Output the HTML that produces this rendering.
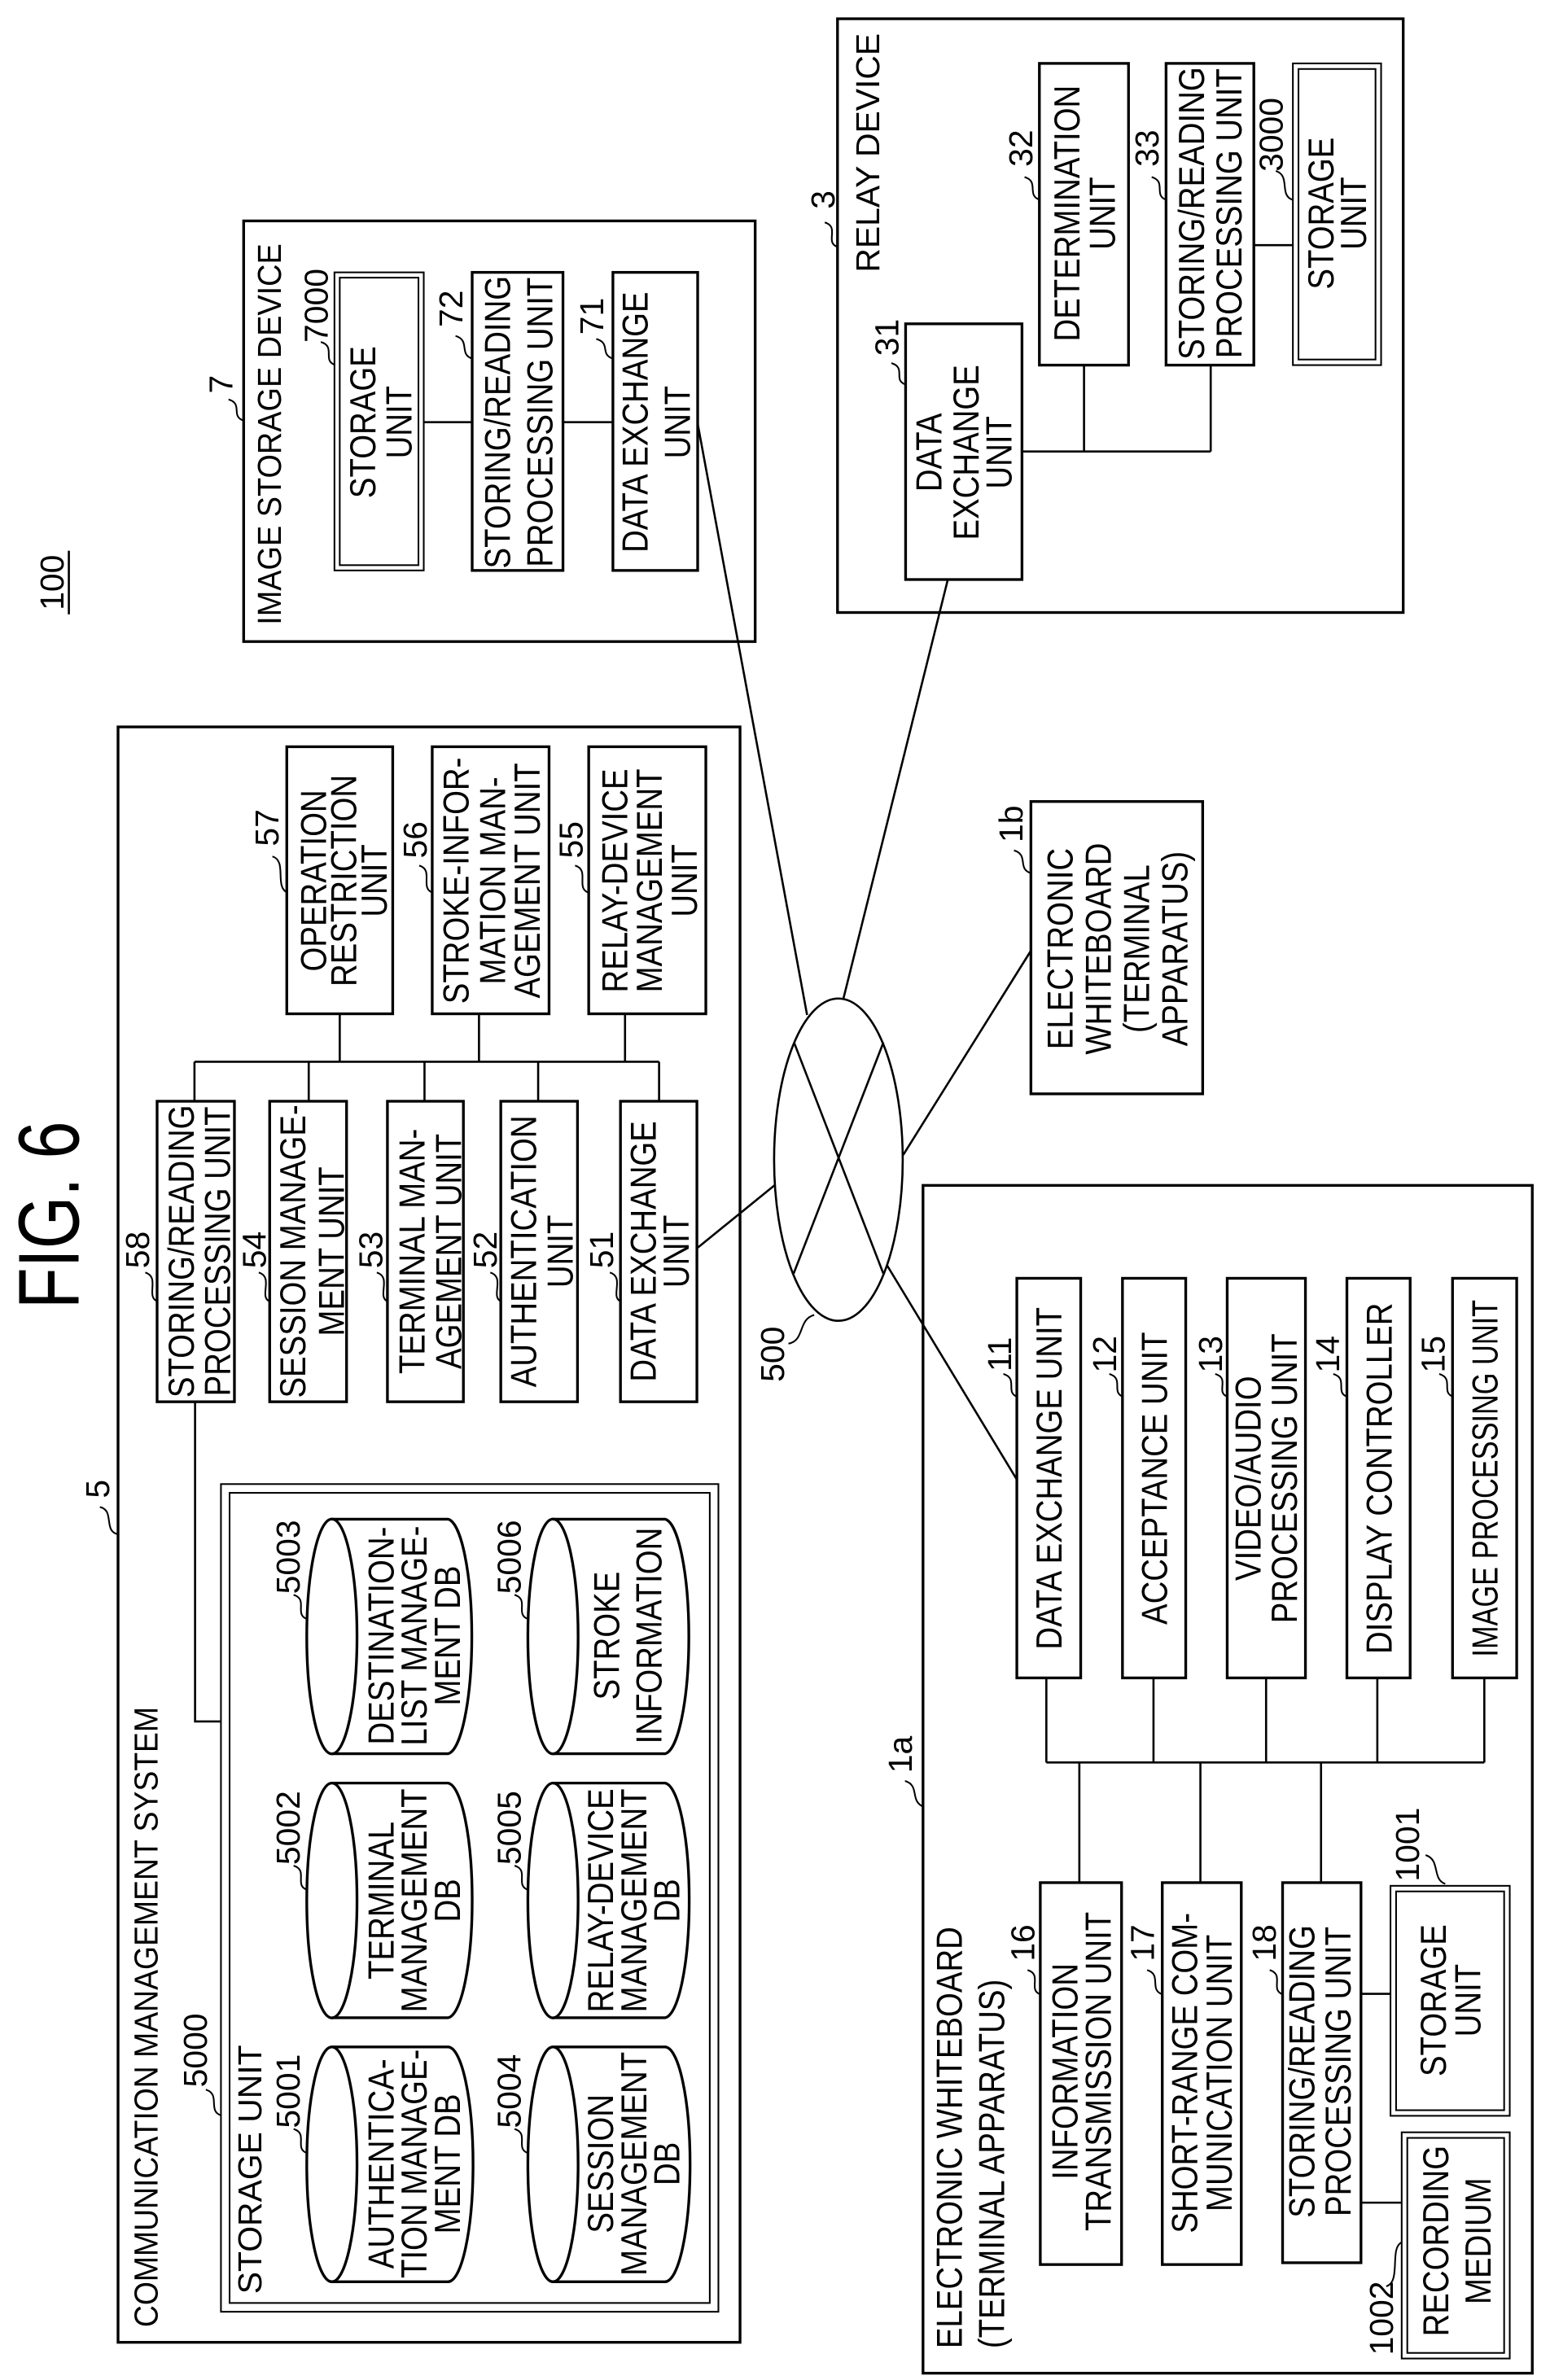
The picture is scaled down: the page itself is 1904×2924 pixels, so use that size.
<!DOCTYPE html>
<html>
<head>
<meta charset="utf-8">
<style>
html,body{margin:0;padding:0;background:#fff;}
svg{display:block;}
text{font-family:"Liberation Sans",Arial,sans-serif;fill:#000;}
.u{font-size:24px;}
.n{font-size:22px;}
.b{fill:none;stroke:#000;stroke-width:1.8;}
.d{fill:none;stroke:#000;stroke-width:1.1;}
.l{fill:none;stroke:#000;stroke-width:1.4;}
.q{fill:none;stroke:#000;stroke-width:1.1;}
</style>
</head>
<body>
<svg width="1904" height="2924" viewBox="0 0 1024.2 1572.9" preserveAspectRatio="none" xmlns="http://www.w3.org/2000/svg">
<rect x="0" y="0" width="1024.2" height="1572.9" fill="#fff"/>

<text transform="translate(52,803) rotate(-90)" text-anchor="middle" font-size="57" textLength="124" lengthAdjust="spacingAndGlyphs">FIG. 6</text>

<text class="n" transform="translate(42,385) rotate(-90)" text-anchor="middle">100</text>
<line x1="45.5" y1="364" x2="45.5" y2="406" class="l"/>

<!-- Communication management system -->
<rect x="78" y="480.4" width="411" height="1067.6" class="b"/>
<text class="n" transform="translate(104,1538) rotate(-90)" text-anchor="start" textLength="410" lengthAdjust="spacingAndGlyphs">COMMUNICATION MANAGEMENT SYSTEM</text>
<text class="n" transform="translate(72,984) rotate(-90)" text-anchor="middle">5</text>
<path d="M66,996 C76,998 68,1012 78,1014" class="q"/>

<rect x="146" y="980.8" width="328.7" height="547" class="d"/>
<rect x="151.7" y="986.6" width="317.3" height="535.4" class="d"/>
<text class="n" transform="translate(172.6,1516) rotate(-90)" text-anchor="start">STORAGE UNIT</text>
<text class="n" transform="translate(136.6,1355) rotate(-90)" text-anchor="middle">5000</text>
<path d="M136,1381 C146,1384 137,1395 146,1398" class="q"/>

<g class="b">
<path d="M219.3,1352.8 L296,1352.8 A16.6,77.6 0 0 1 296,1508 L219.3,1508" />
<ellipse cx="219.3" cy="1430.4" rx="16.6" ry="77.6"/>
<path d="M219.3,1178.4 L296,1178.4 A16.6,77.6 0 0 1 296,1333.5 L219.3,1333.5" />
<ellipse cx="219.3" cy="1256" rx="16.6" ry="77.6"/>
<path d="M219.3,1004 L296,1004 A16.6,77.6 0 0 1 296,1159 L219.3,1159" />
<ellipse cx="219.3" cy="1081.5" rx="16.6" ry="77.6"/>
<path d="M365.4,1352.8 L439.4,1352.8 A16.6,77.6 0 0 1 439.4,1508 L365.4,1508" />
<ellipse cx="365.4" cy="1430.4" rx="16.6" ry="77.6"/>
<path d="M365.4,1178.4 L439.4,1178.4 A16.6,77.6 0 0 1 439.4,1333.5 L365.4,1333.5" />
<ellipse cx="365.4" cy="1256" rx="16.6" ry="77.6"/>
<path d="M365.4,1004 L439.4,1004 A16.6,77.6 0 0 1 439.4,1159 L365.4,1159" />
<ellipse cx="365.4" cy="1081.5" rx="16.6" ry="77.6"/>
</g>
<text class="n" transform="translate(198,1382) rotate(-90)" text-anchor="middle">5001</text>
<text class="n" transform="translate(198,1208) rotate(-90)" text-anchor="middle">5002</text>
<text class="n" transform="translate(198,1029) rotate(-90)" text-anchor="middle">5003</text>
<text class="n" transform="translate(344,1382) rotate(-90)" text-anchor="middle">5004</text>
<text class="n" transform="translate(344,1208) rotate(-90)" text-anchor="middle">5005</text>
<text class="n" transform="translate(344,1029) rotate(-90)" text-anchor="middle">5006</text>
<path d="M194,1407 C204,1410 194,1420 203,1423" class="q"/>
<path d="M194,1233 C204,1236 194,1246 203,1249" class="q"/>
<path d="M194,1054 C204,1057 194,1067 203,1070" class="q"/>
<path d="M340,1407 C350,1410 340,1420 349,1423" class="q"/>
<path d="M340,1233 C350,1236 340,1246 349,1249" class="q"/>
<path d="M340,1054 C350,1057 340,1067 349,1070" class="q"/>

<g class="u">
<text transform="translate(260,1430) rotate(-90) scale(.86,1)" text-anchor="middle"><tspan x="0">AUTHENTICA-</tspan><tspan x="0" dy="22">TION MANAGE-</tspan><tspan x="0" dy="22">MENT DB</tspan></text>
<text transform="translate(260,1256) rotate(-90) scale(.86,1)" text-anchor="middle"><tspan x="0">TERMINAL</tspan><tspan x="0" dy="22">MANAGEMENT</tspan><tspan x="0" dy="22">DB</tspan></text>
<text transform="translate(260,1081) rotate(-90) scale(.86,1)" text-anchor="middle"><tspan x="0">DESTINATION-</tspan><tspan x="0" dy="22">LIST MANAGE-</tspan><tspan x="0" dy="22">MENT DB</tspan></text>
<text transform="translate(405,1430) rotate(-90) scale(.86,1)" text-anchor="middle"><tspan x="0">SESSION</tspan><tspan x="0" dy="22">MANAGEMENT</tspan><tspan x="0" dy="22">DB</tspan></text>
<text transform="translate(405,1256) rotate(-90) scale(.86,1)" text-anchor="middle"><tspan x="0">RELAY-DEVICE</tspan><tspan x="0" dy="22">MANAGEMENT</tspan><tspan x="0" dy="22">DB</tspan></text>
<text transform="translate(409,1081) rotate(-90) scale(.86,1)" text-anchor="middle"><tspan x="0">STROKE</tspan><tspan x="0" dy="28">INFORMATION</tspan></text>
</g>

<rect x="189.5" y="493.5" width="70" height="176.5" class="b"/>
<rect x="285.6" y="493.5" width="77.2" height="176.5" class="b"/>
<rect x="389" y="493.5" width="77.4" height="176.5" class="b"/>
<g class="u">
<text transform="translate(215.4,582) rotate(-90) scale(.86,1)" text-anchor="middle"><tspan x="0">OPERATION</tspan><tspan x="0" dy="20">RESTRICTION</tspan><tspan x="0" dy="20">UNIT</tspan></text>
<text transform="translate(309.7,582) rotate(-90) scale(.86,1)" text-anchor="middle"><tspan x="0">STROKE-INFOR-</tspan><tspan x="0" dy="24">MATION MAN-</tspan><tspan x="0" dy="23">AGEMENT UNIT</tspan></text>
<text transform="translate(414.4,582) rotate(-90) scale(.86,1)" text-anchor="middle"><tspan x="0">RELAY-DEVICE</tspan><tspan x="0" dy="23">MANAGEMENT</tspan><tspan x="0" dy="23">UNIT</tspan></text>
</g>
<text class="n" transform="translate(184,547) rotate(-90)" text-anchor="middle">57</text>
<text class="n" transform="translate(282,555) rotate(-90)" text-anchor="middle">56</text>
<text class="n" transform="translate(385,555) rotate(-90)" text-anchor="middle">55</text>
<path d="M180,566 C190,569 181,586 190,590" class="q"/>
<path d="M277,572 C287,575 277,587 286,590" class="q"/>
<path d="M380,572 C390,575 380,587 389,590" class="q"/>

<rect x="103.8" y="727.8" width="51.1" height="198.6" class="b"/>
<rect x="178.2" y="727.8" width="50.8" height="198.6" class="b"/>
<rect x="256" y="727.8" width="50.2" height="198.6" class="b"/>
<rect x="330.9" y="727.8" width="50.7" height="198.6" class="b"/>
<rect x="410" y="727.8" width="50.5" height="198.6" class="b"/>
<g class="u">
<text transform="translate(127.9,827) rotate(-90) scale(.86,1)" text-anchor="middle"><tspan x="0">STORING/READING</tspan><tspan x="0" dy="24">PROCESSING UNIT</tspan></text>
<text transform="translate(201.7,827) rotate(-90) scale(.86,1)" text-anchor="middle"><tspan x="0">SESSION MANAGE-</tspan><tspan x="0" dy="25.7">MENT UNIT</tspan></text>
<text transform="translate(280.6,827) rotate(-90) scale(.86,1)" text-anchor="middle"><tspan x="0">TERMINAL MAN-</tspan><tspan x="0" dy="24">AGEMENT UNIT</tspan></text>
<text transform="translate(354.3,827) rotate(-90) scale(.86,1)" text-anchor="middle"><tspan x="0">AUTHENTICATION</tspan><tspan x="0" dy="24">UNIT</tspan></text>
<text transform="translate(433.2,827) rotate(-90) scale(.86,1)" text-anchor="middle"><tspan x="0">DATA EXCHANGE</tspan><tspan x="0" dy="22">UNIT</tspan></text>
</g>
<text class="n" transform="translate(98.5,826) rotate(-90)" text-anchor="middle">58</text>
<text class="n" transform="translate(175.5,826) rotate(-90)" text-anchor="middle">54</text>
<text class="n" transform="translate(252.5,826) rotate(-90)" text-anchor="middle">53</text>
<text class="n" transform="translate(328,826) rotate(-90)" text-anchor="middle">52</text>
<text class="n" transform="translate(405,826) rotate(-90)" text-anchor="middle">51</text>
<path d="M96,841 C106,844 96,857 104,860" class="q"/>
<path d="M171,841 C181,844 171,857 178,860" class="q"/>
<path d="M249,841 C259,844 249,857 256,860" class="q"/>
<path d="M324,841 C334,844 324,857 331,860" class="q"/>
<path d="M403,841 C413,844 403,857 410,860" class="q"/>

<g class="l">
<line x1="224.5" y1="670" x2="224.5" y2="701.7"/>
<line x1="316.5" y1="670" x2="316.5" y2="701.7"/>
<line x1="413" y1="670" x2="413" y2="701.7"/>
<line x1="128.5" y1="701.7" x2="435.5" y2="701.7"/>
<line x1="128.5" y1="701.7" x2="128.5" y2="727.8"/>
<line x1="204" y1="701.7" x2="204" y2="727.8"/>
<line x1="280.5" y1="701.7" x2="280.5" y2="727.8"/>
<line x1="355.6" y1="701.7" x2="355.6" y2="727.8"/>
<line x1="435.5" y1="701.7" x2="435.5" y2="727.8"/>
<polyline points="128.9,926.4 128.9,1137.7 146,1137.7"/>
</g>

<!-- Network 500 -->
<ellipse cx="554" cy="766.4" rx="42.5" ry="106.5" class="l"/>
<g class="l">
<line x1="524.7" y1="689" x2="583.7" y2="841.7"/>
<line x1="583.7" y1="689" x2="524.4" y2="841.7"/>
<line x1="460.5" y1="825" x2="511.7" y2="783.4"/>
<line x1="533.3" y1="670.8" x2="461" y2="280"/>
<line x1="557.3" y1="660" x2="626.3" y2="383"/>
<line x1="596.8" y1="763.3" x2="681.2" y2="628.3"/>
<line x1="586" y1="836" x2="672" y2="978"/>
</g>
<text class="n" transform="translate(518,895) rotate(-90)" text-anchor="middle">500</text>
<path d="M521,888 C532,886 527,872 538,869" class="q"/>

<!-- Image storage device 7 -->
<rect x="161" y="146" width="338" height="278" class="b"/>
<text class="n" transform="translate(185.6,413) rotate(-90)" text-anchor="start" textLength="252" lengthAdjust="spacingAndGlyphs">IMAGE STORAGE DEVICE</text>
<text class="n" transform="translate(153.6,254) rotate(-90)" text-anchor="middle">7</text>
<path d="M151,264 C161,267 152,275 161,278" class="q"/>
<rect x="221" y="180" width="59" height="197" class="d"/>
<rect x="224.5" y="183.5" width="52" height="190" class="d"/>
<rect x="312" y="180" width="60" height="197" class="b"/>
<rect x="405" y="180" width="56" height="197" class="b"/>
<g class="u">
<text transform="translate(248,279) rotate(-90) scale(.86,1)" text-anchor="middle"><tspan x="0">STORAGE</tspan><tspan x="0" dy="24">UNIT</tspan></text>
<text transform="translate(337,279) rotate(-90) scale(.86,1)" text-anchor="middle"><tspan x="0">STORING/READING</tspan><tspan x="0" dy="28">PROCESSING UNIT</tspan></text>
<text transform="translate(428,279) rotate(-90) scale(.86,1)" text-anchor="middle"><tspan x="0">DATA EXCHANGE</tspan><tspan x="0" dy="28">UNIT</tspan></text>
</g>
<text class="n" transform="translate(216.5,202) rotate(-90)" text-anchor="middle">7000</text>
<text class="n" transform="translate(305.5,204) rotate(-90)" text-anchor="middle">72</text>
<text class="n" transform="translate(398.5,209) rotate(-90)" text-anchor="middle">71</text>
<path d="M212,226 C222,229 213,238 221,241" class="q"/>
<path d="M301,222 C311,225 303,234 312,237" class="q"/>
<path d="M394,224 C404,227 396,234 405,237" class="q"/>
<g class="l">
<line x1="280" y1="279" x2="312" y2="279"/>
<line x1="372" y1="279" x2="405" y2="279"/>
</g>

<!-- Relay device 3 -->
<rect x="553.4" y="12.4" width="373.8" height="392.4" class="b"/>
<text class="n" transform="translate(581,180) rotate(-90)" text-anchor="start">RELAY DEVICE</text>
<text class="n" transform="translate(551.5,132) rotate(-90)" text-anchor="middle">3</text>
<path d="M545,147 C555,150 545,160 553,163" class="q"/>
<rect x="598.4" y="214" width="76.9" height="169" class="b"/>
<rect x="686.8" y="41.9" width="58.9" height="199.4" class="b"/>
<rect x="770.5" y="41.9" width="58" height="199.4" class="b"/>
<rect x="854.3" y="41.9" width="58.3" height="199.4" class="d"/>
<rect x="858" y="45.6" width="50.9" height="192" class="d"/>
<g class="u">
<text transform="translate(622,299) rotate(-90) scale(.86,1)" text-anchor="middle"><tspan x="0">DATA</tspan><tspan x="0" dy="24.5">EXCHANGE</tspan><tspan x="0" dy="22">UNIT</tspan></text>
<text transform="translate(713.4,141) rotate(-90) scale(.86,1)" text-anchor="middle"><tspan x="0">DETERMINATION</tspan><tspan x="0" dy="23.3">UNIT</tspan></text>
<text transform="translate(795.6,141) rotate(-90) scale(.86,1)" text-anchor="middle"><tspan x="0">STORING/READING</tspan><tspan x="0" dy="24.8">PROCESSING UNIT</tspan></text>
<text transform="translate(881,141) rotate(-90) scale(.86,1)" text-anchor="middle"><tspan x="0">STORAGE</tspan><tspan x="0" dy="21.7">UNIT</tspan></text>
</g>
<text class="n" transform="translate(593.5,223) rotate(-90)" text-anchor="middle">31</text>
<text class="n" transform="translate(682,98) rotate(-90)" text-anchor="middle">32</text>
<text class="n" transform="translate(765.5,98) rotate(-90)" text-anchor="middle">33</text>
<text class="n" transform="translate(847.5,89) rotate(-90)" text-anchor="middle">3000</text>
<path d="M589,240 C599,243 590,251 598,254" class="q"/>
<path d="M677,117 C687,120 678,129 687,132" class="q"/>
<path d="M761,117 C771,120 762,129 770.5,132" class="q"/>
<path d="M843,113 C853,116 845,129 854,132" class="q"/>
<g class="l">
<line x1="828.5" y1="162" x2="854.3" y2="162"/>
<line x1="675.3" y1="298.4" x2="800" y2="298.4"/>
<line x1="716.3" y1="241.3" x2="716.3" y2="298.4"/>
<line x1="800" y1="241.3" x2="800" y2="298.4"/>
</g>

<!-- Electronic whiteboard 1b -->
<rect x="681.2" y="529.7" width="113.5" height="193.2" class="b"/>
<text class="u" transform="translate(708.7,627) rotate(-90) scale(.86,1)" text-anchor="middle"><tspan x="0">ELECTRONIC</tspan><tspan x="0" dy="25.3">WHITEBOARD</tspan><tspan x="0" dy="25.3">(TERMINAL</tspan><tspan x="0" dy="25.3">APPARATUS)</tspan></text>
<text class="n" transform="translate(675.5,544.5) rotate(-90)" text-anchor="middle">1b</text>
<path d="M670,562 C680,565 672,574 681,577" class="q"/>

<!-- Electronic whiteboard 1a -->
<rect x="609.9" y="783.4" width="402.6" height="785" class="b"/>
<g class="u">
<text transform="translate(635.5,1552) rotate(-90) scale(.86,1)" text-anchor="start">ELECTRONIC WHITEBOARD</text>
<text transform="translate(663.5,1552) rotate(-90) scale(.86,1)" text-anchor="start">(TERMINAL APPARATUS)</text>
</g>
<text class="n" transform="translate(602.5,1159.5) rotate(-90)" text-anchor="middle">1a</text>
<path d="M598,1177 C608,1180 601,1190 610,1194" class="q"/>

<rect x="671.9" y="844.8" width="42.2" height="264.1" class="b"/>
<rect x="741.7" y="844.8" width="41.8" height="264.1" class="b"/>
<rect x="810.9" y="844.8" width="51.7" height="264.1" class="b"/>
<rect x="890" y="844.8" width="41.8" height="264.1" class="b"/>
<rect x="959.8" y="844.8" width="42.4" height="264.1" class="b"/>
<g class="u">
<text transform="translate(701.5,977) rotate(-90) scale(.86,1)" text-anchor="middle">DATA EXCHANGE UNIT</text>
<text transform="translate(771,977) rotate(-90) scale(.86,1)" text-anchor="middle">ACCEPTANCE UNIT</text>
<text transform="translate(833,977) rotate(-90) scale(.86,1)" text-anchor="middle"><tspan x="0">VIDEO/AUDIO</tspan><tspan x="0" dy="24">PROCESSING UNIT</tspan></text>
<text transform="translate(919.5,977) rotate(-90) scale(.86,1)" text-anchor="middle">DISPLAY CONTROLLER</text>
<text transform="translate(989.5,977) rotate(-90)" text-anchor="middle" textLength="236" lengthAdjust="spacingAndGlyphs">IMAGE PROCESSING UNIT</text>
</g>
<text class="n" transform="translate(668,895) rotate(-90)" text-anchor="middle">11</text>
<text class="n" transform="translate(737.5,895) rotate(-90)" text-anchor="middle">12</text>
<text class="n" transform="translate(807.5,895) rotate(-90)" text-anchor="middle">13</text>
<text class="n" transform="translate(885,895) rotate(-90)" text-anchor="middle">14</text>
<text class="n" transform="translate(954.5,895) rotate(-90)" text-anchor="middle">15</text>
<path d="M663,908 C673,911 664,920 672,923" class="q"/>
<path d="M733,908 C743,911 734,920 742,923" class="q"/>
<path d="M803,908 C813,911 803,920 811,923" class="q"/>
<path d="M881,908 C891,911 882,920 890,923" class="q"/>
<path d="M951,908 C961,911 952,920 960,923" class="q"/>

<g class="l">
<line x1="691.4" y1="1108.9" x2="691.4" y2="1164.8"/>
<line x1="762.2" y1="1108.9" x2="762.2" y2="1164.8"/>
<line x1="836.6" y1="1108.9" x2="836.6" y2="1164.8"/>
<line x1="910.1" y1="1108.9" x2="910.1" y2="1164.8"/>
<line x1="980.8" y1="1108.9" x2="980.8" y2="1164.8"/>
<line x1="691.4" y1="1164.8" x2="980.8" y2="1164.8"/>
<line x1="713.2" y1="1164.8" x2="713.2" y2="1244.2"/>
<line x1="793.2" y1="1164.8" x2="793.2" y2="1244.2"/>
<line x1="872.9" y1="1164.8" x2="872.9" y2="1244.2"/>
<line x1="899.3" y1="1317.7" x2="918.8" y2="1317.7"/>
<line x1="899.3" y1="1455.7" x2="926.2" y2="1455.7"/>
</g>

<rect x="687.4" y="1244.2" width="53.7" height="252.4" class="b"/>
<rect x="768" y="1244.2" width="52.2" height="252.4" class="b"/>
<rect x="847.5" y="1244.2" width="51.8" height="251.2" class="b"/>
<rect x="918.8" y="1246.3" width="78.8" height="152" class="d"/>
<rect x="922.5" y="1250" width="71.4" height="144.6" class="d"/>
<rect x="926.2" y="1409.2" width="71.4" height="149.5" class="d"/>
<rect x="929.9" y="1412.9" width="64" height="142.1" class="d"/>
<g class="u">
<text transform="translate(712,1369) rotate(-90) scale(.86,1)" text-anchor="middle"><tspan x="0">INFORMATION</tspan><tspan x="0" dy="22">TRANSMISSION UNIT</tspan></text>
<text transform="translate(791,1370) rotate(-90) scale(.86,1)" text-anchor="middle"><tspan x="0">SHORT-RANGE COM-</tspan><tspan x="0" dy="23">MUNICATION UNIT</tspan></text>
<text transform="translate(868.5,1369) rotate(-90) scale(.86,1)" text-anchor="middle"><tspan x="0">STORING/READING</tspan><tspan x="0" dy="24">PROCESSING UNIT</tspan></text>
<text transform="translate(955.3,1322) rotate(-90) scale(.86,1)" text-anchor="middle"><tspan x="0">STORAGE</tspan><tspan x="0" dy="23">UNIT</tspan></text>
<text transform="translate(957,1481) rotate(-90) scale(.86,1)" text-anchor="middle"><tspan x="0">RECORDING</tspan><tspan x="0" dy="28">MEDIUM</tspan></text>
</g>
<text class="n" transform="translate(683.5,1284) rotate(-90)" text-anchor="middle">16</text>
<text class="n" transform="translate(762.5,1284) rotate(-90)" text-anchor="middle">17</text>
<text class="n" transform="translate(843,1284) rotate(-90)" text-anchor="middle">18</text>
<text class="n" transform="translate(937.5,1219) rotate(-90)" text-anchor="middle">1001</text>
<text class="n" transform="translate(920.5,1532) rotate(-90)" text-anchor="middle">1002</text>
<path d="M679,1302 C689,1305 679,1315 687.4,1318" class="q"/>
<path d="M758,1302 C768,1305 759,1315 768,1318" class="q"/>
<path d="M839,1302 C849,1305 839,1315 847.5,1318" class="q"/>
<path d="M942,1226 C952,1229 946,1242 955,1245" class="q"/>
<path d="M916,1511 C926,1508 918,1486 926,1482" class="q"/>
</svg>
</body>
</html>
